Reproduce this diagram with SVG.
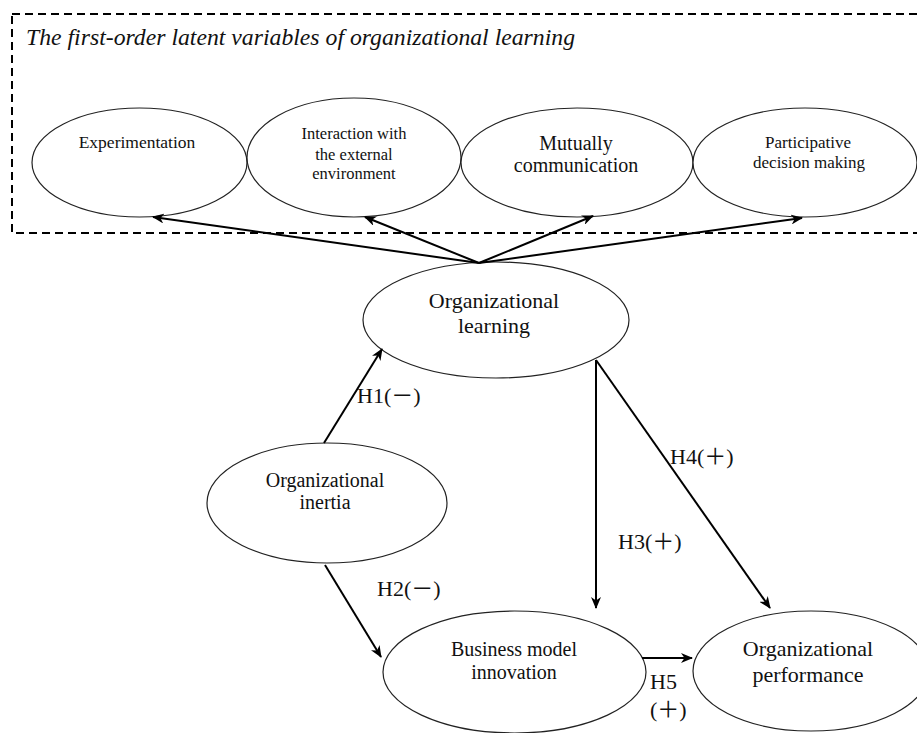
<svg xmlns="http://www.w3.org/2000/svg" width="917" height="733" viewBox="0 0 917 733">
<style>
  .bg { fill: #ffffff; }
  .box { fill: none; stroke: #000; stroke-width: 2; stroke-dasharray: 8 5; }
  .node ellipse { fill: #fff; stroke: #222; stroke-width: 1.2; }
  .t { font-family: "Liberation Serif", "Times New Roman", "Noto Sans CJK SC", serif; fill: #111; text-anchor: middle; }
  .lbl { font-family: "Liberation Serif", "Times New Roman", "Noto Sans CJK SC", serif; fill: #111; font-size: 22px; }
  .title { font-family: "Liberation Serif", "Times New Roman", serif; font-style: italic; font-size: 23px; fill: #111; }
  .conn line { stroke: #000; stroke-width: 2; fill: none; marker-end: url(#arr); }
</style>
<defs>
  <marker id="arr" viewBox="0 0 12 10" refX="11" refY="5" markerWidth="12" markerHeight="10" markerUnits="userSpaceOnUse" orient="auto">
    <path d="M0,0 L12,5 L0,10 L3.5,5 z" fill="#000"/>
  </marker>
</defs>
<rect class="bg" x="0" y="0" width="917" height="733"/>

<g id="latent-box">
  <rect class="box" x="12" y="14" width="930" height="219"/>
  <text class="title" x="26" y="45" textLength="549" lengthAdjust="spacingAndGlyphs">The first-order latent variables of organizational  learning</text>
</g>

<g id="experimentation" class="node">
  <ellipse cx="139.5" cy="162.5" rx="107.5" ry="54.5"/>
  <text class="t" x="137" y="148" font-size="17.5">Experimentation</text>
</g>
<g id="interaction" class="node">
  <ellipse cx="354" cy="157.5" rx="107" ry="59.5"/>
  <text class="t" x="354" y="139" font-size="16.5">Interaction with</text>
  <text class="t" x="354" y="160" font-size="16.5">the external</text>
  <text class="t" x="354" y="179" font-size="16.5">environment</text>
</g>
<g id="mutually" class="node">
  <ellipse cx="577" cy="162.5" rx="116" ry="54.5"/>
  <text class="t" x="576" y="150" font-size="20">Mutually</text>
  <text class="t" x="576" y="172" font-size="20">communication</text>
</g>
<g id="participative" class="node">
  <ellipse cx="805" cy="162.5" rx="112" ry="54.5"/>
  <text class="t" x="808" y="148" font-size="17">Participative</text>
  <text class="t" x="809" y="168" font-size="17">decision making</text>
</g>

<g id="org-learning" class="node">
  <ellipse cx="496" cy="320" rx="133" ry="58"/>
  <text class="t" x="494" y="308" font-size="22">Organizational</text>
  <text class="t" x="494" y="333" font-size="22">learning</text>
</g>
<g id="org-inertia" class="node">
  <ellipse cx="327" cy="503" rx="120" ry="60"/>
  <text class="t" x="325" y="487" font-size="20">Organizational</text>
  <text class="t" x="325" y="509" font-size="20">inertia</text>
</g>
<g id="bmi" class="node">
  <ellipse cx="514.5" cy="672" rx="131.5" ry="61"/>
  <text class="t" x="514" y="656" font-size="20">Business model</text>
  <text class="t" x="514" y="679" font-size="20">innovation</text>
</g>
<g id="org-performance" class="node">
  <ellipse cx="811" cy="671" rx="118" ry="60"/>
  <text class="t" x="808" y="656" font-size="22">Organizational</text>
  <text class="t" x="808" y="682" font-size="22">performance</text>
</g>

<g id="connectors" class="conn">
  <line x1="479" y1="263" x2="153" y2="217"/>
  <line x1="479" y1="263" x2="365" y2="217"/>
  <line x1="479" y1="263" x2="593" y2="216"/>
  <line x1="479" y1="263" x2="802" y2="218"/>
  <line x1="324" y1="443" x2="382" y2="349"/>
  <line x1="325" y1="565" x2="381" y2="657"/>
  <line x1="596" y1="360" x2="596" y2="608"/>
  <line x1="596" y1="360" x2="770" y2="608"/>
  <line x1="642" y1="658" x2="692" y2="658"/>
</g>

<g id="labels">
  <text class="lbl" x="357" y="403">H1(－)</text>
  <text class="lbl" x="377" y="596">H2(－)</text>
  <text class="lbl" x="618" y="549">H3(＋)</text>
  <text class="lbl" x="670" y="464">H4(＋)</text>
  <text class="lbl" x="650" y="689">H5</text>
  <text class="lbl" x="650" y="717">(＋)</text>
</g>
</svg>
